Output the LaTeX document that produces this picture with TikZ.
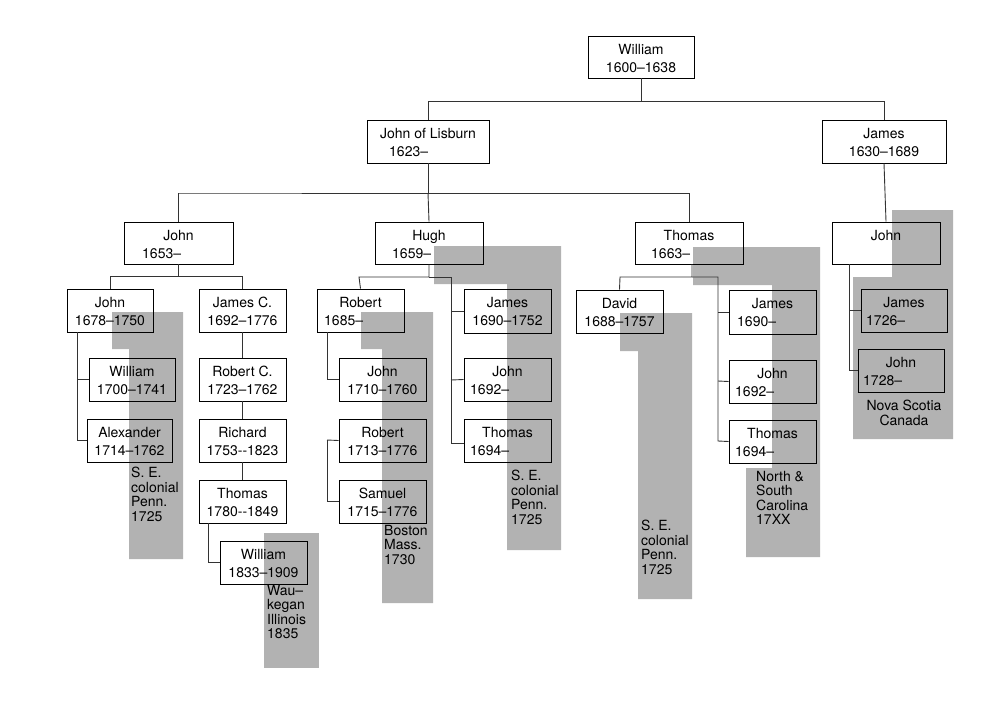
\documentclass[tikz,border=0pt]{standalone}
\usepackage{fontspec}
\setmainfont{TeX Gyre Heros}
\begin{document}
\begin{tikzpicture}[x=1pt,y=-1pt,
  shade/.style={fill=black!30,draw=none},
  link/.style={draw=black!80,line width=0.9pt},
  box/.style={draw=black,line width=0.9pt,fill=none},
  txt/.style={font=\fontsize{14}{14.5}\selectfont,inner sep=0pt},
  lab/.style={font=\fontsize{14}{14.5}\selectfont,inner sep=0pt,anchor=north west,align=left}]
\useasboundingbox (0,0) rectangle (1000,704);
% gray shapes
\fill[shade] (112,312)--(183,312)--(183,559)--(129,559)--(129,349)--(112,349)--cycle;
\fill[shade] (264,533) rectangle (319,668);
\fill[shade] (361,312)--(433,312)--(433,603)--(382,603)--(382,349)--(361,349)--cycle;
\fill[shade] (434,246)--(561,246)--(561,550)--(507,550)--(507,284)--(434,284)--cycle;
\fill[shade] (620,313)--(692,313)--(692,599)--(638,599)--(638,351)--(620,351)--cycle;
\fill[shade] (693,247)--(820,247)--(820,557)--(746,557)--(746,468)--(772,468)--(772,285)--(693,285)--cycle;
\fill[shade] (892,210)--(953,210)--(953,439)--(853,439)--(853,277)--(892,277)--cycle;
% boxes: \pb{name}{x1}{y1}{x2}{y2}{name text}{year}{offset or c}
\newcommand{\pb}[8]{%
  \node[box,minimum width=#4-#2,minimum height=#5-#3,inner sep=0pt] (#1) at ({(#2+#4)/2},{(#3+#5)/2}) {};
  \node[txt,anchor=base] (#1n) at ({(#2+#4)/2},#3+18) {#6};
  \ifx c#8\node[txt,anchor=base] (#1y) at ({(#2+#4)/2},#3+36) {#7};
  \else\node[txt,anchor=base west] (#1y) at (#2+#8,#3+36) {#7};\fi}
\pb{w}{588}{36}{694}{78}{William}{1600--1638}{c}
\pb{jl}{367}{120}{489}{163}{John of Lisburn}{1623--}{22}
\pb{ja}{822}{120}{946}{163}{James}{1630--1689}{c}
\pb{j1}{124}{222}{233}{264}{John}{1653--}{18}
\pb{h}{375}{222}{483}{264}{Hugh}{1659--}{17}
\pb{t1}{635}{222}{743}{264}{Thomas}{1663--}{16}
\pb{j2}{832}{222}{940}{264}{John}{}{c}
\pb{j3}{67}{289}{153}{332}{John}{1678--1750}{c}
\pb{w2}{89}{358}{175}{401}{William}{1700--1741}{c}
\pb{al}{87}{419}{172}{462}{Alexander}{1714--1762}{c}
\pb{jc}{199}{289}{286}{332}{James C.}{1692--1776}{c}
\pb{rc}{199}{358}{286}{401}{Robert C.}{1723--1762}{c}
\pb{ri}{199}{419}{286}{462}{Richard}{1753-{}-1823}{c}
\pb{t2}{199}{480}{286}{523}{Thomas}{1780-{}-1849}{c}
\pb{w3}{220}{541}{307}{584}{William}{1833--1909}{c}
\pb{r1}{317}{289}{404}{332}{Robert}{1685--}{7}
\pb{j4}{339}{358}{426}{401}{John}{1710--1760}{c}
\pb{r2}{339}{419}{426}{462}{Robert}{1713--1776}{c}
\pb{sa}{339}{480}{426}{523}{Samuel}{1715--1776}{c}
\pb{ja2}{464}{289}{551}{333}{James}{1690--1752}{c}
\pb{j5}{464}{358}{551}{401}{John}{1692--}{6}
\pb{t3}{464}{419}{551}{462}{Thomas}{1694--}{6}
\pb{da}{576}{290}{663}{333}{David}{1688--1757}{c}
\pb{ja3}{729}{290}{816}{334}{James}{1690--}{8}
\pb{j6}{729}{360}{816}{403}{John}{1692--}{6}
\pb{t4}{729}{420}{816}{463}{Thomas}{1694--}{6}
\pb{ja4}{861}{289}{947}{332}{James}{1726--}{5}
\pb{j7}{858}{349}{944}{392}{John}{1728--}{5}
% connectors
\draw[link] (w.south) |- (428,101) -| (jl.north);
\draw[link] (428,101) -| (ja.north);
\draw[link] (jl.south) |- (178,193) -| (j1.north);
\draw[link] (428,193) -- (h.north);
\draw[link] (428,193) -| (t1.north);
\draw[link] (ja.south) -- (j2.north);
\draw[link] (j1.south) |- (110,276) -| (j3.north);
\draw[link] (110,276) -| (jc.north);
\draw[link] (77,332) |- (w2.west);
\draw[link] (77,380) |- (al.west);
\draw[link] (jc) -- (rc); \draw[link] (rc) -- (ri); \draw[link] (ri) -- (t2);
\draw[link] (208,523) |- (w3.west);
\draw[link] (h.south) |- (359,277) -- (r1.north);
\draw[link] (429,277) -| (451,443) -- (t3.west |- 0,443);
\draw[link] (451,311) -- (ja2.west);
\draw[link] (451,380) -- (j5.west);
\draw[link] (327,332) |- (j4.west);
\draw[link] (327,440) -- (r2.west);
\draw[link] (327,440) |- (sa.west);
\draw[link] (692,264) |- (620,277) -- (da.north);
\draw[link] (692,277) -| (718,441) -- (t4.west);
\draw[link] (718,312) -- (ja3.west);
\draw[link] (718,381) -- (j6.west);
\draw[link] (849,264) |- (ja4.west);
\draw[link] (849,310) |- (j7.west);
% labels
\node[lab] (l1) at (131,467) {S. E.\\colonial\\Penn.\\1725};
\node[lab] (l2) at (267,585) {Wau--\\kegan\\Illinois\\1835};
\node[lab] (l3) at (384,525) {Boston\\Mass.\\1730};
\node[lab] (l4) at (511,470) {S. E.\\colonial\\Penn.\\1725};
\node[lab] (l5) at (641,520) {S. E.\\colonial\\Penn.\\1725};
\node[lab] (l6) at (756,471) {North \&\\South\\Carolina\\17XX};
\node[lab,align=center,anchor=north] (l7) at (904,400) {Nova Scotia\\Canada};
\end{tikzpicture}
\end{document}
